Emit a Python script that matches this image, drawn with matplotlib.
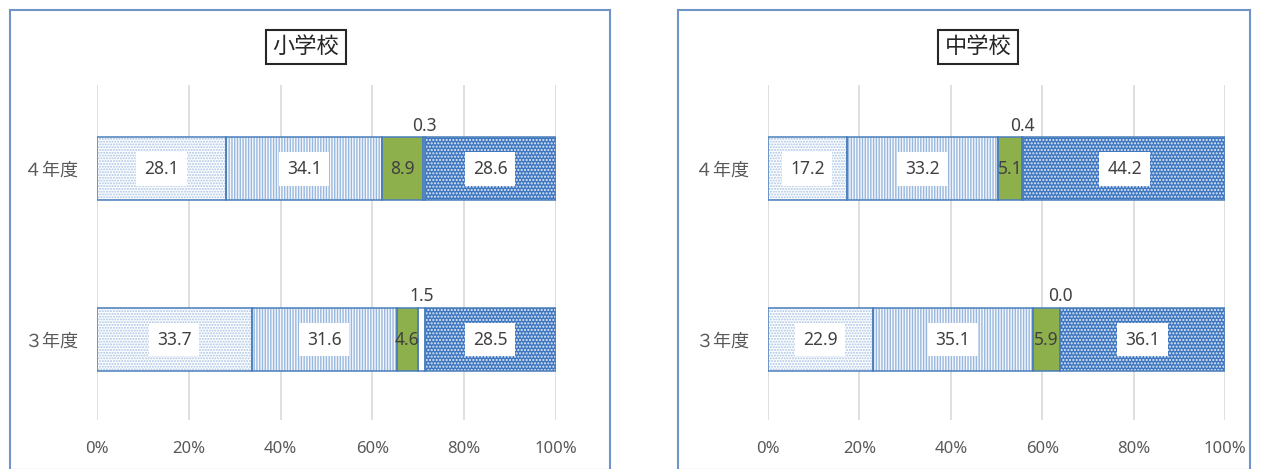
import matplotlib
matplotlib.use("Agg")
import matplotlib.pyplot as plt
from matplotlib.patches import Rectangle
import numpy as np

plt.rcParams['font.family'] = ['Noto Sans', 'Noto Sans CJK JP', 'DejaVu Sans']

panels = ["小学校", "中学校"]
years = ["３年度", "４年度"]
# segment values for [3年度, 4年度]
elem = {
    "s1": [33.7, 28.1],
    "s2": [31.6, 34.1],
    "s3": [4.6, 8.9],
    "s4": [1.5, 0.3],
    "s5": [28.5, 28.6],
}
junior = {
    "s1": [22.9, 17.2],
    "s2": [35.1, 33.2],
    "s3": [5.9, 5.1],
    "s4": [0.0, 0.4],
    "s5": [36.1, 44.2],
}
xticks = [0, 20, 40, 60, 80, 100]
xticklabels = ["0%", "20%", "40%", "60%", "80%", "100%"]

styles = {
    "s1": dict(facecolor="white", hatchcolor="#a9c3e4", hatch="......"),
    "s2": dict(facecolor="#f4f8fc", hatchcolor="#9ab8de", hatch="||||||"),
    "s3": dict(facecolor="#8eb04c", hatchcolor="#8eb04c", hatch=None),
    "s4": dict(facecolor="white", hatchcolor="white", hatch=None),
    "s5": dict(facecolor="#3f77c0", hatchcolor="#e4edf8", hatch="....."),
}

W, H = 1263, 469
fig = plt.figure(figsize=(W / 100, H / 100), dpi=100)

def fx(px):
    return px / W

def fy(py):
    return 1 - py / H

# panel frames
for (x0, x1) in [(10, 610), (678, 1250)]:
    fig.patches.append(Rectangle((fx(x0), fy(470)), fx(x1 - x0), (470 - 10) / H,
                                 transform=fig.transFigure, fill=False,
                                 edgecolor="#6f95c8", linewidth=1.5))

axes_px = [(97, 556), (768, 1225)]
titles_x = [306, 978]
datasets = [elem, junior]
top_px, bot_px = 85, 420

for pi in range(2):
    x0, x1 = axes_px[pi]
    ax = fig.add_axes([fx(x0), fy(bot_px), fx(x1 - x0), (bot_px - top_px) / H])
    data = datasets[pi]
    ypos = np.arange(len(years))
    left = np.zeros(len(years))
    h = 0.37
    for key in ["s1", "s2", "s3", "s4", "s5"]:
        vals = np.array(data[key])
        st = styles[key]
        plt.rcParams['hatch.linewidth'] = 1.0
        ax.barh(ypos, vals, left=left, height=h, color=st["facecolor"],
                hatch=st["hatch"], edgecolor=st["hatchcolor"], linewidth=0, zorder=2)
        ax.barh(ypos, vals, left=left, height=h, fill=False,
                edgecolor="#4a7ebb", linewidth=1.1, zorder=3)
        for i, v in enumerate(vals):
            cx = left[i] + v / 2
            if key == "s4":
                ax.text(cx, ypos[i] + h / 2 + 0.015, f"{v:.1f}", ha="center", va="bottom",
                        fontsize=12.5, color="#404040", zorder=5)
            elif key == "s3":
                ax.text(cx, ypos[i], f"{v:.1f}", ha="center", va="center",
                        fontsize=12.5, color="#404040", zorder=5)
            else:
                ax.text(cx, ypos[i], f"{v:.1f}", ha="center", va="center",
                        fontsize=12.5, color="#404040", zorder=5,
                        bbox=dict(boxstyle="square,pad=0.45", facecolor="white",
                                  edgecolor="none"))
        left = left + vals
    ax.set_xlim(0, 100)
    ax.set_ylim(-0.47, 1.49)
    ax.set_xticks(xticks)
    ax.set_xticklabels(xticklabels, fontsize=12, color="#595959")
    ax.set_yticks(ypos)
    ax.set_yticklabels(years, fontsize=13, color="#595959")
    ax.grid(axis="x", color="#d9d9d9", linewidth=1.2, zorder=0)
    ax.set_axisbelow(True)
    for s in ax.spines.values():
        s.set_visible(False)
    ax.tick_params(axis="x", length=0, pad=15)
    ax.tick_params(axis="y", length=0, pad=14)
    fig.text(fx(titles_x[pi]), fy(47), panels[pi], ha="center", va="center",
             fontsize=16, color="#262626",
             bbox=dict(boxstyle="square,pad=0.3", facecolor="white",
                       edgecolor="#262626", linewidth=1.5))

fig.savefig("out.png", dpi=100, facecolor="white")
